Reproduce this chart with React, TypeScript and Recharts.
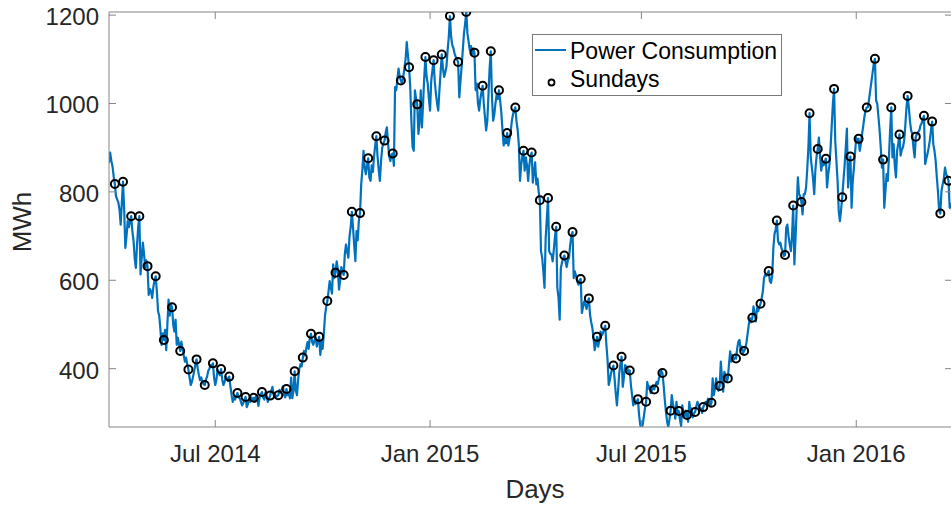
import { ComposedChart, Line, XAxis, YAxis, Legend, ReferenceLine } from "recharts";

// daily consumption, MWh. data starts Tue 1 Apr 2014; weeks run Sunday..Saturday
const leadDays = [866, 889, 870, 858, 835];

const spring2014 = [
  [818, 790, 783, 776, 760, 726, 775],
  [823, 760, 673, 700, 734, 720, 735],
  [745, 711, 690, 650, 628, 680, 720],
  [745, 613, 650, 685, 660, 628, 645],
  [632, 567, 580, 575, 560, 585, 600],
  [609, 575, 530, 520, 490, 454, 480],
  [465, 488, 442, 500, 556, 520, 545],
  [539, 500, 484, 511, 454, 470, 455],
  [440, 461, 445, 430, 416, 425, 410],
  [398, 380, 363, 370, 382, 395, 410],
  [421, 400, 385, 374, 380, 370, 365],
  [363, 375, 382, 395, 400, 408, 405],
  [412, 380, 363, 375, 397, 390, 385],
];

const summer2014 = [
  [399, 375, 363, 370, 382, 378, 372],
  [382, 360, 340, 325, 335, 330, 338],
  [345, 335, 333, 325, 317, 322, 330],
  [336, 313, 320, 330, 325, 335, 328],
  [334, 325, 340, 330, 316, 335, 342],
  [347, 335, 330, 345, 338, 325, 332],
  [339, 350, 359, 340, 345, 335, 338],
  [340, 352, 345, 351, 360, 340, 335],
  [354, 340, 345, 333, 380, 333, 350],
  [394, 350, 340, 375, 400, 410, 405],
  [425, 440, 430, 446, 460, 445, 470],
  [479, 460, 454, 465, 470, 450, 462],
  [472, 431, 460, 445, 480, 520, 540],
];

const autumn2014 = [
  [553, 575, 598, 583, 570, 636, 605],
  [617, 643, 625, 579, 600, 630, 620],
  [612, 660, 681, 665, 651, 700, 720],
  [755, 719, 680, 643, 711, 690, 735],
  [752, 817, 850, 893, 855, 840, 860],
  [876, 832, 825, 860, 845, 880, 905],
  [926, 880, 850, 825, 870, 900, 910],
  [916, 935, 946, 910, 880, 870, 885],
  [887, 859, 1037, 1030, 1055, 1079, 1060],
  [1052, 1045, 1060, 1080, 1100, 1139, 1110],
  [1082, 1037, 960, 901, 893, 1030, 1010],
  [998, 931, 960, 1030, 946, 1000, 1060],
  [1105, 1060, 1045, 1010, 984, 1052, 1075],
];

const winter2015 = [
  [1098, 1050, 1022, 1000, 984, 1030, 1070],
  [1111, 1080, 1060, 1070, 1083, 1120, 1150],
  [1198, 1151, 1132, 1125, 1113, 1105, 1100],
  [1094, 1014, 1050, 1083, 1120, 1158, 1180],
  [1207, 1158, 1140, 1120, 1130, 1110, 1125],
  [1115, 1030, 1045, 1000, 984, 1010, 1025],
  [1040, 1000, 969, 939, 960, 1020, 1080],
  [1118, 1014, 961, 975, 1000, 1020, 1010],
  [1030, 1007, 980, 940, 905, 920, 910],
  [933, 905, 920, 935, 960, 975, 985],
  [991, 960, 940, 908, 825, 860, 880],
  [893, 848, 878, 860, 825, 860, 880],
  [889, 821, 845, 867, 817, 830, 800],
];

const spring2015 = [
  [781, 666, 651, 620, 583, 696, 740],
  [786, 666, 660, 658, 643, 670, 700],
  [721, 583, 560, 511, 628, 640, 650],
  [656, 643, 630, 645, 651, 680, 700],
  [709, 605, 620, 610, 598, 590, 600],
  [603, 526, 540, 552, 545, 535, 550],
  [559, 522, 505, 492, 470, 442, 455],
  [472, 450, 465, 484, 475, 480, 490],
  [497, 454, 420, 363, 375, 390, 400],
  [407, 378, 345, 317, 350, 390, 410],
  [427, 359, 380, 408, 405, 401, 390],
  [396, 363, 340, 317, 332, 320, 325],
  [331, 295, 272, 268, 272, 290, 310],
];

const summer2015 = [
  [325, 370, 355, 360, 345, 350, 362],
  [353, 363, 370, 365, 378, 385, 395],
  [390, 363, 330, 302, 280, 268, 285],
  [305, 340, 320, 310, 287, 325, 300],
  [304, 285, 270, 317, 300, 290, 305],
  [295, 280, 325, 302, 310, 290, 298],
  [302, 315, 325, 318, 306, 310, 300],
  [313, 320, 325, 318, 332, 328, 315],
  [323, 378, 340, 355, 378, 360, 350],
  [361, 416, 380, 348, 393, 385, 370],
  [378, 410, 439, 416, 431, 420, 425],
  [423, 445, 461, 465, 442, 450, 435],
  [440, 446, 460, 480, 500, 514, 505],
];

const autumn2015 = [
  [515, 541, 525, 507, 537, 530, 540],
  [547, 560, 575, 605, 613, 610, 615],
  [621, 598, 594, 610, 673, 705, 715],
  [735, 689, 681, 685, 672, 665, 655],
  [657, 719, 726, 700, 681, 666, 700],
  [769, 636, 696, 764, 833, 795, 790],
  [777, 749, 795, 795, 810, 850, 900],
  [978, 878, 855, 830, 795, 850, 880],
  [897, 923, 880, 848, 870, 860, 868],
  [875, 810, 840, 860, 900, 950, 1000],
  [1033, 916, 870, 825, 757, 734, 760],
  [788, 825, 859, 900, 943, 810, 850],
  [880, 764, 825, 855, 890, 923, 915],
];

const winter2016 = [
  [920, 893, 910, 931, 950, 970, 985],
  [991, 992, 1010, 1030, 1050, 1070, 1090],
  [1101, 1007, 999, 970, 939, 900, 855],
  [873, 764, 802, 840, 825, 880, 940],
  [991, 878, 908, 860, 833, 893, 910],
  [930, 882, 895, 901, 916, 950, 990],
  [1017, 992, 960, 939, 931, 900, 878],
  [925, 931, 935, 939, 950, 955, 965],
  [972, 863, 875, 886, 900, 916, 940],
  [959, 908, 893, 870, 833, 800, 757],
  [751, 802, 817, 830, 855, 840, 835],
  [825, 764, 772, 760],
];

const xTickLabels = ["Jul 2014", "Jan 2015", "Jul 2015", "Jan 2016"];
const xTickMonths = [[2014, 6], [2015, 0], [2015, 6], [2016, 0]];
const yTicks = [400, 600, 800, 1000, 1200];

const DAY_MS = 86400000;
const START = Date.UTC(2014, 3, 1);
const xTicks = xTickMonths.map(([y, m]) => Math.round((Date.UTC(y, m, 1) - START) / DAY_MS));

const daily = [
  ...leadDays,
  ...[spring2014, summer2014, autumn2014, winter2015, spring2015, summer2015, autumn2015, winter2016].flat(2),
];
// day 5 is the first Sunday (6 Apr 2014)
const data = daily.map((power, day) => ({ day, power, sunday: day % 7 === 5 ? power : null }));

const FONT = '"Liberation Sans", Arial, Helvetica, sans-serif';
const BLUE = "#0072BD";
const AXIS = "#858585";
const INK = "#262626";
const PLOT_TOP = 12;
const PLOT_RIGHT = 952;

function XTick({ x, y, payload }: any) {
  const i = xTicks.indexOf(payload.value);
  return (
    <g>
      <line x1={x} y1={y} x2={x} y2={y - 7} stroke={AXIS} />
      <line x1={x} y1={PLOT_TOP} x2={x} y2={PLOT_TOP + 7} stroke={AXIS} />
      <text x={x} y={y + 35} textAnchor="middle" fill={INK} fontSize={24} fontFamily={FONT}>
        {xTickLabels[i]}
      </text>
    </g>
  );
}

function YTick({ x, y, payload }: any) {
  return (
    <g>
      <line x1={x} y1={y} x2={x + 7} y2={y} stroke={AXIS} />
      <line x1={PLOT_RIGHT} y1={y} x2={PLOT_RIGHT - 7} y2={y} stroke={AXIS} />
      <text x={x - 10} y={y + 10} textAnchor="end" fill={INK} fontSize={24} fontFamily={FONT}>
        {payload.value}
      </text>
    </g>
  );
}

function LegendBox() {
  return (
    <svg width={250} height={62} style={{ display: "block" }}>
      <rect x={0.5} y={0.5} width={249} height={61} fill="#fff" stroke="#7a7a7a" />
      <line x1={3} y1={16} x2={34} y2={16} stroke={BLUE} strokeWidth={2} />
      <text x={38} y={25} fontSize={23} fontFamily={FONT} fill="#000">
        Power Consumption
      </text>
      <circle cx={19.5} cy={48.5} r={3} fill="none" stroke="#000" strokeWidth={1.8} />
      <text x={38} y={52.5} fontSize={23} fontFamily={FONT} fill="#000">
        Sundays
      </text>
    </svg>
  );
}

export default function App() {
  return (
    <div
      style={{
        position: "absolute",
        left: 0,
        top: 0,
        width: 951,
        height: 505,
        overflow: "hidden",
        background: "#fff",
      }}
    >
      <ComposedChart width={952} height={505} data={data} margin={{ top: PLOT_TOP, right: 0, bottom: 0, left: 0 }}>
        <XAxis
          dataKey="day"
          type="number"
          domain={[0, 722]}
          ticks={xTicks}
          interval={0}
          height={78}
          tickSize={0}
          tickMargin={0}
          tickLine={false}
          axisLine={{ stroke: AXIS }}
          tick={<XTick />}
          allowDataOverflow
          label={{
            content: () => (
              <text x={535} y={498} textAnchor="middle" fill={INK} fontSize={26} fontFamily={FONT}>
                Days
              </text>
            ),
          }}
        />
        <YAxis
          type="number"
          domain={[268, 1207]}
          ticks={yTicks}
          interval={0}
          width={109}
          tickSize={0}
          tickMargin={0}
          tickLine={false}
          axisLine={{ stroke: AXIS }}
          tick={<YTick />}
          allowDataOverflow
          label={{
            content: () => (
              <text
                x={31}
                y={222}
                transform="rotate(-90 31 222)"
                textAnchor="middle"
                fill={INK}
                fontSize={26}
                fontFamily={FONT}
              >
                MWh
              </text>
            ),
          }}
        />
        <ReferenceLine y={1207} stroke={AXIS} />
        <Line
          dataKey="power"
          stroke={BLUE}
          strokeWidth={2.2}
          strokeLinejoin="round"
          dot={false}
          activeDot={false}
          isAnimationActive={false}
        />
        <Line
          dataKey="sunday"
          stroke="none"
          dot={{ r: 4, stroke: "#000", strokeWidth: 2, fill: "none" }}
          activeDot={false}
          isAnimationActive={false}
        />
        <Legend
          layout="vertical"
          align="center"
          verticalAlign="middle"
          wrapperStyle={{ left: 532, top: 34, width: 250, height: 62 }}
          content={() => <LegendBox />}
        />
      </ComposedChart>
    </div>
  );
}
